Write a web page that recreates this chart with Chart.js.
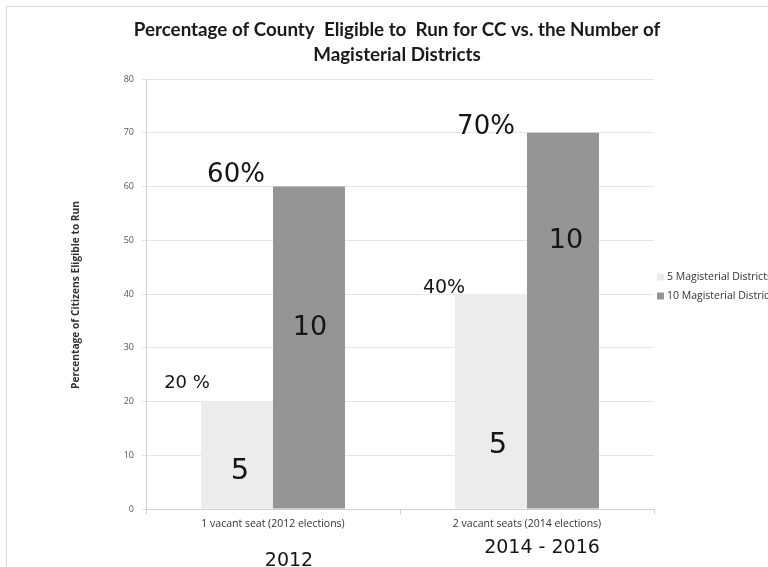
<!DOCTYPE html>
<html>
<head>
<meta charset="utf-8">
<script src="https://cdn.jsdelivr.net/npm/chart.js@4.4.1/dist/chart.umd.min.js"></script>
<style>
  html, body { margin: 0; padding: 0; background: #fff; }
  #wrap { width: 768px; height: 567px; position: relative; }
</style>
</head>
<body>
<div id="wrap"><canvas id="chart"></canvas></div>
<script>
const categories = ['1 vacant seat (2012 elections)', '2 vacant seats (2014 elections)'];
const seriesNames = ['5 Magisterial Districts', '10 Magisterial Districts'];
const fiveDistricts = [20, 40];
const tenDistricts = [60, 70];
const yTicks = [0, 10, 20, 30, 40, 50, 60, 70, 80];

// free text boxes pasted on the chart: category, value (y), x offset from category centre
const noteTexts = ['20 %', '60%', '10', '5', '40%', '70%', '10', '5'];
const noteCats = [0, 0, 0, 0, 1, 1, 1, 1];
const noteValues = [22.5, 60.8, 32.4, 5.5, 40.2, 69.8, 48.6, 10.4];
const noteOffsets = [-86, -37, 37, -33, -83, -41, 39, -29];
const noteSizes = [18, 26, 27, 29, 19, 26, 27, 29];

const yearTexts = ['2012', '2014 - 2016'];
const yearOffsets = [16, 15];
const yearBaselines = [57, 44];

const titleLines = ['Percentage of County  Eligible to  Run for CC vs. the Number of', 'Magisterial Districts'];
const yTitle = 'Percentage of Citizens Eligible to Run';

const colors = { light: '#ececec', dark: '#959595', grid: '#e4e4e4', text: '#151515', tick: '#555' };

const decorPlugin = {
  id: 'decor',
  beforeDraw(chart) {
    const ctx = chart.ctx;
    ctx.save();
    ctx.fillStyle = '#fff';
    ctx.fillRect(0, 0, chart.width, chart.height);
    ctx.strokeStyle = '#d9d9d9';
    ctx.lineWidth = 1;
    ctx.strokeRect(6.5, 6.5, chart.width + 20, chart.height + 20);
    ctx.restore();
  },
  afterDraw(chart) {
    const ctx = chart.ctx;
    const x = chart.scales.x;
    const y = chart.scales.y;
    const area = chart.chartArea;
    ctx.save();

    // title
    ctx.fillStyle = '#1a1a1a';
    ctx.textAlign = 'center';
    ctx.textBaseline = 'alphabetic';
    ctx.font = 'bold 18.8px Lato';
    ctx.fillText(titleLines[0], 397, 36);
    ctx.fillText(titleLines[1], 397, 61);

    // y axis title
    ctx.save();
    ctx.translate(76, 295);
    ctx.rotate(-Math.PI / 2);
    ctx.font = 'bold 10.2px "Open Sans"';
    ctx.fillStyle = '#333';
    ctx.textBaseline = 'middle';
    ctx.fillText(yTitle, 0, 0);
    ctx.restore();

    // text boxes
    ctx.fillStyle = colors.text;
    ctx.textBaseline = 'alphabetic';
    noteTexts.forEach((t, i) => {
      ctx.font = noteSizes[i] + 'px "DejaVu Sans"';
      ctx.fillText(t, x.getPixelForValue(noteCats[i]) + noteOffsets[i], y.getPixelForValue(noteValues[i]));
    });
    ctx.font = '19px "DejaVu Sans"';
    yearTexts.forEach((t, i) => {
      ctx.fillText(t, x.getPixelForValue(i) + yearOffsets[i], area.bottom + yearBaselines[i]);
    });

    // legend
    ctx.textAlign = 'left';
    ctx.textBaseline = 'middle';
    ctx.font = '10.5px "Open Sans"';
    [colors.light, colors.dark].forEach((c, i) => {
      const ly = 277 + i * 19;
      ctx.fillStyle = c;
      ctx.fillRect(657, ly - 3.5, 7, 7);
      ctx.fillStyle = '#333';
      ctx.fillText(seriesNames[i], 667, ly);
    });
    ctx.restore();
  }
};

new Chart(document.getElementById('chart'), {
  type: 'bar',
  data: {
    labels: categories,
    datasets: [
      { label: seriesNames[0], data: fiveDistricts, backgroundColor: colors.light, borderWidth: 0 },
      { label: seriesNames[1], data: tenDistricts, backgroundColor: colors.dark, borderWidth: 0 }
    ]
  },
  options: {
    responsive: true,
    maintainAspectRatio: false,
    animation: false,
    devicePixelRatio: 1,
    layout: { padding: { top: 79, right: 114, bottom: 0, left: 6 } },
    datasets: { bar: { barPercentage: 1, categoryPercentage: 0.567 } },
    plugins: {
      legend: { display: false },
      tooltip: { enabled: false },
      title: { display: false }
    },
    scales: {
      x: {
        afterFit(scale) { scale.height = 58; },
        grid: { display: true, offset: true, drawOnChartArea: false, tickLength: 5, color: '#d0d0d0' },
        border: { color: '#d0d0d0' },
        ticks: { color: '#333', padding: 4, font: { family: 'Open Sans', size: 10.5 } }
      },
      y: {
        min: 0,
        max: 80,
        afterFit(scale) { scale.width = 140; },
        afterBuildTicks(scale) { scale.ticks = yTicks.map(v => ({ value: v })); },
        grid: { color: colors.grid, tickLength: 4 },
        border: { color: '#d0d0d0' },
        ticks: { color: colors.tick, padding: 8, font: { family: 'Open Sans', size: 9 } }
      }
    }
  },
  plugins: [decorPlugin]
});
</script>
</body>
</html>
